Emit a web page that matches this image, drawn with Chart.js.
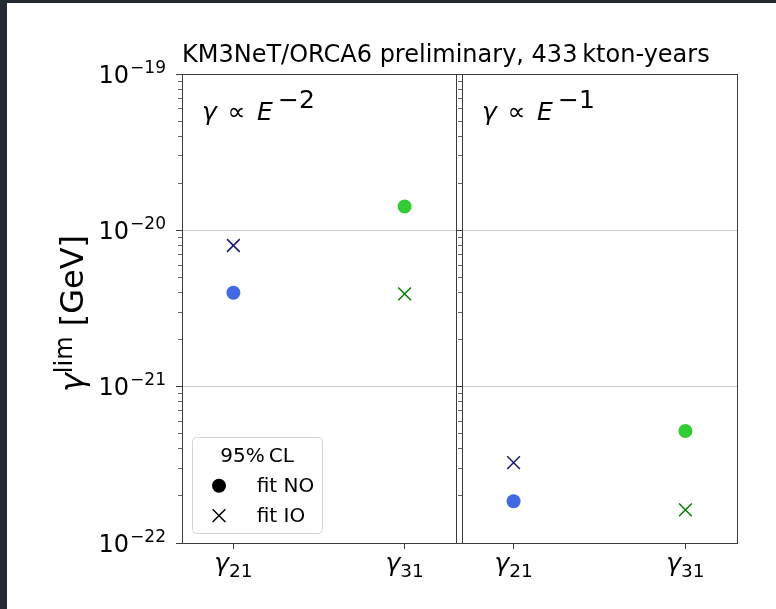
<!DOCTYPE html>
<html><head><meta charset="utf-8">
<script src="https://cdn.jsdelivr.net/npm/chart.js@4/dist/chart.umd.min.js"></script>
<style>
html,body{margin:0;padding:0;background:#232a31;width:776px;height:609px;overflow:hidden;}
#c{position:absolute;left:7px;top:3px;background:#fff;}
</style></head><body>
<canvas id="c" width="769" height="606"></canvas>
<script>
// ---- data ----
const categories = ['21', '31'];                 // γ21, γ31
const panelExponents = ['\u22122', '\u22121'];   // γ ∝ E^-2 , γ ∝ E^-1
const seriesLabels = ['fit NO', 'fit IO'];
const legendTitle = '95%\u2009CL';
const titleText = 'KM3NeT/ORCA6 preliminary, 433\u2009kton-years';
const fitNO_E2 = [3.99e-21, 1.42e-20];
const fitIO_E2 = [8.0e-21, 3.92e-21];
const fitNO_E1 = [1.85e-22, 5.2e-22];
const fitIO_E1 = [3.27e-22, 1.63e-22];
const yTickValues = [1e-22, 1e-21, 1e-20, 1e-19];
const yTickExponents = ['\u221222', '\u221221', '\u221220', '\u221219'];
const yMinorMantissas = [2, 3, 4, 5, 6, 7, 8, 9];
const colorsNO = ['#4169e1', '#32cd32'];
const colorsIO = ['#191970', '#008000'];

// ---- helpers ----
const FAM = '"DejaVu Sans", sans-serif';
const SPINE = '#3c3c3c';
function pts(vals) { return vals.map((v, i) => ({x: i, y: v})); }
function majorTicks(scale) { scale.ticks = yTickValues.map(v => ({value: v, major: true})); }
function minorTicks(scale) {
  const t = [];
  yTickValues.slice(0, -1).forEach(v => yMinorMantissas.forEach(m => t.push({value: m * v, major: false})));
  scale.ticks = t;
}
function catTicks(scale) { scale.ticks = categories.map((c, i) => ({value: i})); }
const logBase = () => ({type: 'logarithmic', min: 1e-22, max: 1e-19, ticks: {display: false, autoSkip: false}});

function txt(ctx, s, x, y, size, italic, align) {
  ctx.font = (italic ? 'italic ' : '') + size + 'px ' + FAM;
  ctx.textAlign = align || 'left';
  ctx.textBaseline = 'alphabetic';
  ctx.fillText(s, x, y);
}
function tw(ctx, s, size, italic) {
  ctx.font = (italic ? 'italic ' : '') + size + 'px ' + FAM;
  return ctx.measureText(s).width;
}
function marker(ctx, style, x, y, r, color, bw) {
  ctx.save();
  ctx.fillStyle = color; ctx.strokeStyle = color; ctx.lineWidth = bw;
  Chart.helpers.drawPoint(ctx, {pointStyle: style, radius: r, borderWidth: bw, rotation: 0}, x, y);
  ctx.restore();
}

const mathText = {
  id: 'mathText',
  afterDraw(chart) {
    const ctx = chart.ctx, ca = chart.chartArea, ys = chart.scales.y;
    ctx.save();
    ctx.fillStyle = '#000';
    // y tick labels 10^n
    const right = ca.left - 16;
    yTickValues.forEach((v, i) => {
      const py = ys.getPixelForValue(v);
      const ws = tw(ctx, yTickExponents[i], 17, false);
      txt(ctx, yTickExponents[i], right, py - 1.5, 17, false, 'right');
      txt(ctx, '10', right - ws - 1, py + 8.5, 24, false, 'right');
    });
    // x tick labels γ_ij and panel annotations
    ['xL', 'xR'].forEach((id, p) => {
      const sc = chart.scales[id];
      categories.forEach((c, i) => {
        const px = sc.getPixelForValue(i);
        const wg = tw(ctx, '\u03b3', 25, true), wsub = tw(ctx, c, 18.5, false);
        const x0 = px - (wg + wsub) / 2;
        txt(ctx, '\u03b3', x0, ca.bottom + 28, 25, true);
        txt(ctx, c, x0 + wg, ca.bottom + 34, 18.5, false);
      });
      const left = sc.getPixelForValue(-0.3);
      txt(ctx, '\u03b3', left + 20, ca.top + 46, 25, true);
      txt(ctx, '\u221d', left + 45.5, ca.top + 46, 25, false);
      txt(ctx, 'E', left + 75, ca.top + 46, 25, true);
      txt(ctx, panelExponents[p], left + 96, ca.top + 34, 25, false);
    });
    // y axis title  γ^lim [GeV]
    ctx.save();
    ctx.translate(76, (ca.top + ca.bottom) / 2 + 5);
    ctx.rotate(-Math.PI / 2);
    const w1 = tw(ctx, '\u03b3', 32, true), w2 = tw(ctx, 'lim', 24, false), w3 = tw(ctx, ' [GeV]', 32, false);
    let x = -(w1 + w2 + w3) / 2;
    txt(ctx, '\u03b3', x, 0, 32, true); x += w1;
    txt(ctx, 'lim', x, -11, 24, false); x += w2;
    txt(ctx, ' [GeV]', x, 0, 32, false);
    ctx.restore();
    // legend
    const bx = ca.left + 10, bw = 130, bh = 96, by = ca.bottom - 10 - bh;
    ctx.save();
    ctx.beginPath();
    if (ctx.roundRect) ctx.roundRect(bx + 0.5, by + 0.5, bw, bh, 4); else ctx.rect(bx + 0.5, by + 0.5, bw, bh);
    ctx.fillStyle = 'rgba(255,255,255,0.8)';
    ctx.fill();
    ctx.strokeStyle = '#d4d4d4'; ctx.lineWidth = 1;
    ctx.stroke();
    ctx.restore();
    ctx.fillStyle = '#000';
    txt(ctx, legendTitle, bx + 65, by + 24.7, 20, false, 'center');
    const styles = [['circle', 7, 0], ['crossRot', 9, 1.5]];
    seriesLabels.forEach((lab, i) => {
      const yy = by + 48.7 + i * 30;
      marker(ctx, styles[i][0], bx + 27, yy, styles[i][1], '#000', styles[i][2]);
      ctx.fillStyle = '#000';
      txt(ctx, lab, bx + 64.7, yy + 6, 20, false);
    });
    ctx.restore();
  }
};

const noStyle = {pointStyle: 'circle', pointRadius: 7, pointHoverRadius: 7, pointBorderWidth: 0, showLine: false, clip: false};
const ioStyle = {pointStyle: 'crossRot', pointRadius: 9, pointHoverRadius: 9, pointBorderWidth: 1.5, showLine: false, clip: false};

new Chart(document.getElementById('c'), {
  type: 'scatter',
  data: {
    datasets: [
      Object.assign({label: seriesLabels[0], xAxisID: 'xL', yAxisID: 'y', data: pts(fitNO_E2), pointBackgroundColor: colorsNO, pointBorderColor: colorsNO}, noStyle),
      Object.assign({label: seriesLabels[1], xAxisID: 'xL', yAxisID: 'y', data: pts(fitIO_E2), pointBackgroundColor: colorsIO, pointBorderColor: colorsIO}, ioStyle),
      Object.assign({label: seriesLabels[0], xAxisID: 'xR', yAxisID: 'y', data: pts(fitNO_E1), pointBackgroundColor: colorsNO, pointBorderColor: colorsNO}, noStyle),
      Object.assign({label: seriesLabels[1], xAxisID: 'xR', yAxisID: 'y', data: pts(fitIO_E1), pointBackgroundColor: colorsIO, pointBorderColor: colorsIO}, ioStyle)
    ]
  },
  options: {
    responsive: false,
    animation: false,
    events: [],
    layout: {padding: {right: 39}},
    plugins: {
      legend: {display: false},
      tooltip: {enabled: false},
      title: {display: true, text: titleText, align: 'start', fullSize: false, color: '#000',
        font: {family: FAM, size: 24, weight: 'normal', lineHeight: 1.2}, padding: {top: 38.1, bottom: 4.1}}
    },
    scales: {
      xL: {type: 'linear', position: 'bottom', stack: 'panels', stackWeight: 277, min: -0.3, max: 1.3175,
        afterBuildTicks: catTicks, afterFit: s => { s.height = 66; },
        ticks: {display: false},
        grid: {drawOnChartArea: false, tickLength: 6, tickColor: SPINE, tickWidth: 1},
        border: {color: SPINE, width: 1}},
      xR: {type: 'linear', position: 'bottom', stack: 'panels', stackWeight: 278, min: -0.3175, max: 1.3,
        afterBuildTicks: catTicks, afterFit: s => { s.height = 66; },
        ticks: {display: false},
        grid: {drawOnChartArea: false, tickLength: 6, tickColor: SPINE, tickWidth: 1},
        border: {color: SPINE, width: 1}},
      y: Object.assign(logBase(), {position: 'left', afterBuildTicks: majorTicks, afterFit: s => { s.width = 175; },
        grid: {color: '#cfcfcf', lineWidth: 1, tickLength: 6, tickColor: SPINE, tickWidth: 1},
        border: {color: SPINE, width: 1}}),
      yMinL: Object.assign(logBase(), {position: {xL: -0.3}, afterBuildTicks: minorTicks,
        grid: {drawOnChartArea: false, tickLength: 4, tickColor: SPINE, tickWidth: 0.8},
        border: {display: false}}),
      yR: Object.assign(logBase(), {position: {xR: -0.3}, afterBuildTicks: majorTicks,
        grid: {drawOnChartArea: false, tickLength: 6, tickColor: SPINE, tickWidth: 1},
        border: {color: SPINE, width: 1}}),
      yMinR: Object.assign(logBase(), {position: {xR: -0.3}, afterBuildTicks: minorTicks,
        grid: {drawOnChartArea: false, tickLength: 4, tickColor: SPINE, tickWidth: 0.8},
        border: {display: false}}),
      yDiv: Object.assign(logBase(), {position: {xL: 1.3}, grid: {display: false}, border: {color: SPINE, width: 1}}),
      yEnd: Object.assign(logBase(), {position: {xR: 1.3}, grid: {display: false}, border: {color: SPINE, width: 1}}),
      xTop: {type: 'linear', min: 0, max: 1, position: {y: 1e-19}, ticks: {display: false},
        grid: {display: false}, border: {color: SPINE, width: 1}}
    }
  },
  plugins: [mathText]
});
</script>
</body></html>
